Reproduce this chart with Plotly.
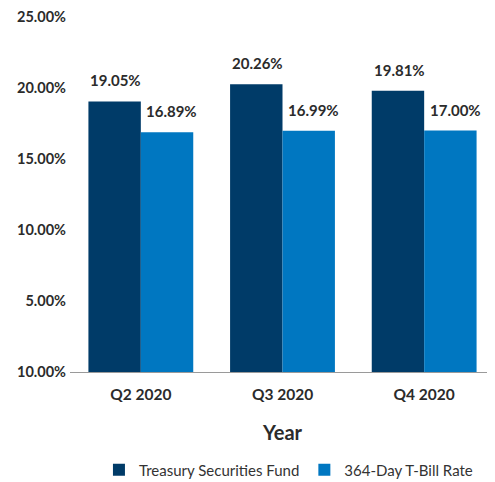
import plotly.graph_objs as go

quarters = ['Q2 2020', 'Q3 2020', 'Q4 2020']
fund_vals = [19.05, 20.26, 19.81]
tbill_vals = [16.89, 16.99, 17.00]
y_ticks = [0, 5, 10, 15, 20, 25]
y_tick_text = ['10.00%', '5.00%', '10.00%', '15.00%', '20.00%', '25.00%']

dark = '#003B68'
light = '#0077C1'
txt = '#2b2b2b'
font = 'Lato'

fig = go.Figure()
fig.add_trace(go.Bar(x=quarters, y=fund_vals, name='Treasury Securities Fund',
                     marker=dict(color=dark, line=dict(width=0))))
fig.add_trace(go.Bar(x=quarters, y=tbill_vals, name='364-Day T-Bill Rate',
                     marker=dict(color=light, line=dict(width=0))))

# value labels sit above each bar, nudged a little right of the bar centre
for q, v in zip(quarters, fund_vals):
    fig.add_annotation(x=q, y=v, text=f'{v:.2f}%', showarrow=False, xshift=-25, yshift=21,
                       font=dict(family=font, size=15, color=txt, weight='bold'))
for q, v in zip(quarters, tbill_vals):
    fig.add_annotation(x=q, y=v, text=f'{v:.2f}%', showarrow=False, xshift=31, yshift=21,
                       font=dict(family=font, size=15, color=txt, weight='bold'))

# page body has an 8px margin, so the figure is a bit smaller than the window
fig.update_layout(
    width=487, height=474,
    margin=dict(l=62, r=0, t=9, b=110, autoexpand=False),
    plot_bgcolor='white', paper_bgcolor='white',
    barmode='group', bargap=0.26, bargroupgap=0,
    showlegend=True,
    legend=dict(orientation='h', x=0.514, xanchor='center', y=-98 / 355, yanchor='middle',
                font=dict(family=font, size=15, color='#333333'), itemwidth=30,
                traceorder='normal'),
    xaxis=dict(showline=True, linecolor='#9a9a9a', linewidth=1, ticks='', automargin=False,
               ticklabelstandoff=8,
               tickfont=dict(family=font, size=15.5, color=txt, weight='bold'),
               title=dict(text='Year', font=dict(family=font, size=20, color=txt, weight='bold'),
                          standoff=24)),
    yaxis=dict(range=[0, 25], tickvals=y_ticks, ticktext=y_tick_text, showgrid=False,
               zeroline=False, ticks='', ticklabelstandoff=3, automargin=False,
               ticklabeloverflow='allow',
               tickfont=dict(family=font, size=14.5, color=txt, weight='bold')),
)

fig.write_html('out.html')
